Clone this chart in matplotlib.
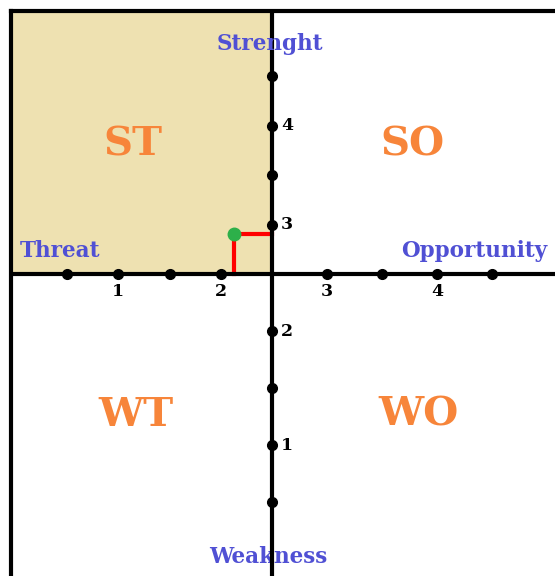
import matplotlib.pyplot as plt
import numpy as np

# SWOT-Diagramm: Quadranten ST / SO / WT / WO mit einem bewerteten Punkt

dot_values = [0.5, 1, 1.5, 2, 3, 3.5, 4, 4.5]
tick_numbers = [1, 2, 3, 4]
point_x = 2.13
point_y = 2.9
center = 2.5

W, H = 555, 576
blue = '#5050D4'
orange = '#F7853A'


# Skala ist links/rechts bzw. oben/unten leicht unterschiedlich gestreckt
def fx(v):
    v = np.asarray(v, float)
    return np.where(v < center, (v - center) * 102.5, (v - center) * 110)


def fx_inv(t):
    t = np.asarray(t, float)
    return np.where(t < 0, t / 102.5 + center, t / 110 + center)


def fy(v):
    v = np.asarray(v, float)
    return np.where(v < center, (v - center) * 114, (v - center) * 99)


def fy_inv(t):
    t = np.asarray(t, float)
    return np.where(t < 0, t / 114 + center, t / 99 + center)


def px(x, y):
    return x / W, 1 - y / H


fig = plt.figure(figsize=(W / 100, H / 100), dpi=100)
ax = fig.add_axes([11 / W, 1 - 590 / H, 559 / W, 579 / H])
ax.set_xscale('function', functions=(fx, fx_inv))
ax.set_yscale('function', functions=(fy, fy_inv))
xmin, xmax = float(fx_inv(-261)), float(fx_inv(298))
ymin, ymax = float(fy_inv(-316)), float(fy_inv(263))
ax.set_xlim(xmin, xmax)
ax.set_ylim(ymin, ymax)

for s in ['right', 'bottom']:
    ax.spines[s].set_visible(False)
for s in ['left', 'top']:
    ax.spines[s].set_linewidth(3)
ax.set_xticks([])
ax.set_yticks([])
ax.set_xticks([], minor=True)
ax.set_yticks([], minor=True)

# ST-Quadrant einfaerben
ax.fill_between([xmin, center], center, ymax, color='#EEE1B1', zorder=0)

ax.axvline(center, color='black', linewidth=3, zorder=3)
ax.axhline(center, color='black', linewidth=3, zorder=3)

ax.plot(dot_values, [center] * len(dot_values), 'o', color='black', markersize=7, zorder=4)
ax.plot([center] * len(dot_values), dot_values, 'o', color='black', markersize=7, zorder=4)

ax.plot([point_x, point_x], [center, point_y], color='red', linewidth=3, zorder=2)
ax.plot([point_x, center], [point_y, point_y], color='red', linewidth=3, zorder=2)
ax.plot(point_x, point_y, 'o', color='#2DB04A', markersize=9, zorder=5)

for n in tick_numbers:
    ax.annotate(str(n), (n, center), xytext=(0, -12.5), textcoords='offset points',
                ha='center', va='center', fontsize=12.5, fontweight='bold',
                family='DejaVu Serif', color='black')
    ax.annotate(str(n), (center, n), xytext=(6.5, 0), textcoords='offset points',
                ha='left', va='center', fontsize=12.5, fontweight='bold',
                family='DejaVu Serif', color='black')

lab = dict(color=blue, fontsize=15.5, fontweight='bold', family='DejaVu Serif', va='baseline')
fig.text(*px(270, 50), 'Strenght', ha='center', **lab)
fig.text(*px(20, 257), 'Threat', ha='left', **lab)
fig.text(*px(401, 257), 'Opportunity', ha='left', **lab)
# Weakness liegt unter der senkrechten Achse
ax.text(*px(268, 563), 'Weakness', ha='center', transform=fig.transFigure,
        zorder=2, clip_on=False, **lab)

quad = dict(color=orange, fontsize=29, fontweight='bold', family='DejaVu Serif',
            ha='center', va='baseline')
fig.text(*px(133, 155), 'ST', **quad)
fig.text(*px(412, 155), 'SO', **quad)
fig.text(*px(136, 426), 'WT', **quad)
fig.text(*px(418, 426), 'WO', **quad)

plt.savefig('out.png', dpi=100)
